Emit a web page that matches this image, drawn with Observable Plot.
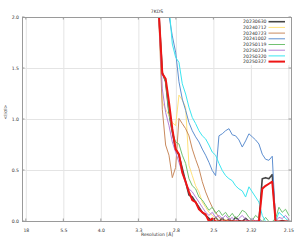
<!DOCTYPE html>
<html><head><meta charset="utf-8">
<script src="https://cdn.jsdelivr.net/npm/d3@7"></script>
<script src="https://cdn.jsdelivr.net/npm/@observablehq/plot@0.6"></script>
<style>body{margin:0;background:#fff} svg{display:block}</style>
</head><body><div id="chart"></div>
<script>
// x positions are 1/d^2 (Å^-2)
const xTickValues = [0.0031, 0.0335, 0.0639, 0.0943, 0.1247, 0.1551, 0.1855, 0.2159];
const xTickLabels = ["18", "5.5", "4.0", "3.3", "2.8", "2.5", "2.32", "2.15"];
const yTickValues = [0, 0.5, 1.0, 1.5, 2.0];
const title = "7KDS";
const xLabel = "Resolution [Å]";
const yLabel = "<I/σI>";

const seriesNames = ["20230630","20240712","20240723","20241002","20250119","20250224","20250320","20250327"];
const seriesColors = ["#454545","#ffe27a","#c98a5e","#5e8fd0","#72c272","#b57fd8","#3ce6f0","#ee1515"];
const seriesWidths = [1.6, 1, 1, 1, 1, 1, 1, 2];

const invD2 = [0.1079,0.1106,0.1133,0.1160,0.1187,0.1214,0.1241,0.1268,0.1295,0.1322,
  0.1349,0.1376,0.1403,0.1430,0.1457,0.1484,0.1511,0.1538,0.1565,0.1592,
  0.1619,0.1646,0.1673,0.1700,0.1727,0.1754,0.1781,0.1808,0.1835,0.1862,
  0.1889,0.1916,0.1943,0.1970,0.1997,0.2024,0.2051,0.2078,0.2105,0.2132,
  0.2159];

const v20230630 = [2.18,2.02,1.46,1.37,1.07,0.88,0.71,0.65,0.52,0.39,
  0.26,0.24,0.19,0.14,0.09,0.06,0.03,0,0.04,0,
  0.03,0,0.02,0,0.04,0.01,0,0.03,0,0,
  0,0,0.42,0.43,0.42,0.46,0,0,0.01,0,
  0];
const v20240712 = [2.22,2.05,1.17,1.10,1.04,0.97,0.94,1.24,1.19,1.12,
  0.55,0.45,0.35,0.29,0.19,0.14,0.09,0.06,0.03,0,
  0,0.02,0,0,0.01,0,0,0,0,0,
  0,0,0,0,0,0,0,0,0,0,
  0];
const v20240723 = [2.22,1.95,1.10,0.75,0.65,0.43,0.53,1.01,0.96,0.91,
  0.84,0.71,0.61,0.52,0.39,0.29,0.21,0.14,0.09,0.04,
  0.02,0,0.03,0,0,0,0,0,0,0,
  0,0,0,0,0,0,0,0,0,0,
  0];
const v20241002 = [2.8,2.6,2.4,2.22,2.02,1.82,1.66,1.37,1.20,1.09,
  0.97,0.89,0.83,0.78,0.71,0.65,0.58,0.50,0.45,0.84,
  0.86,0.89,0.91,0.85,0.84,0.80,0.73,0.79,0.86,0.83,
  0.80,0.76,0.66,0.61,0.60,0.64,0,0,0,0,
  0];
const v20250119 = [2.2,2.02,1.46,1.37,1.07,0.88,0.78,0.76,0.65,0.57,
  0.42,0.35,0.32,0.24,0.21,0.16,0.11,0.14,0.08,0.11,
  0.06,0.09,0.04,0.08,0.03,0.06,0.11,0.09,0.04,0.01,
  0.06,0.03,0,0.04,0,0,0.03,0.14,0.09,0.12,
  0.06];
const v20250224 = [2.22,1.99,1.30,1.07,0.94,0.78,0.68,0.58,0.48,0.37,
  0.32,0.29,0.24,0.19,0.14,0.09,0.06,0.09,0.04,0.06,
  0.03,0.06,0.02,0.04,0,0.03,0.06,0.02,0,0.03,
  0,0.02,0,0,0,0,0,0.04,0.03,0.06,
  0.02];
const v20250320 = [3.0,2.8,2.6,2.51,2.12,1.74,1.61,1.56,1.35,1.25,
  1.12,1.02,0.96,0.89,0.84,0.81,0.75,0.68,0.65,0.57,
  0.50,0.45,0.42,0.40,0.35,0.32,0.30,0.24,0.34,0.29,
  0.24,0.19,0.06,0,0,0,0,0.09,0.06,0.03,
  0];
const v20250327 = [2.22,2.02,1.45,1.40,1.17,0.91,0.71,0.66,0.48,0.39,
  0.29,0.21,0.19,0.12,0.09,0.07,0,0.03,0,0,
  0,0,0,0,0,0,0,0,0,0,
  0,0,0.32,0.35,0.37,0.39,0,0,0,0,
  0];

const seriesValues = [v20230630,v20240712,v20240723,v20241002,v20250119,v20250224,v20250320,v20250327];
const xLabelOf = new Map(xTickValues.map((v, i) => [v, xTickLabels[i]]));

const font = "DejaVu Sans";
const lineMarks = seriesNames.map((name, k) =>
  Plot.line(invD2.map((x, i) => ({x, v: seriesValues[k][i]})), {
    x: "x", y: "v", stroke: seriesColors[k], strokeWidth: seriesWidths[k], clip: true
  }));

const plot = Plot.plot({
  width: 300, height: 240,
  marginTop: 17, marginBottom: 19, marginLeft: 22, marginRight: 9,
  style: {fontFamily: font, fontSize: "4.6px", background: "#fff", color: "#333"},
  x: {domain: [0, 0.218]},
  y: {domain: [0, 2]},
  marks: [
    Plot.gridX(xTickValues, {stroke: "#e4e4e4", strokeOpacity: 1}),
    Plot.gridY([0.5, 1.0, 1.5], {stroke: "#e4e4e4", strokeOpacity: 1}),
    ...lineMarks,
    Plot.frame({stroke: "#9a9a9a"}),
    Plot.axisX(xTickValues, {tickSize: 0, tickPadding: 7, tickFormat: d => xLabelOf.get(d), label: null, fill: "#333"}),
    Plot.axisY(yTickValues, {tickSize: 0, tickPadding: 3.5, tickFormat: d3.format(".1f"), label: null, fill: "#333"}),
    Plot.text([title], {text: d => d, frameAnchor: "top", dy: -8, fill: "#333"}),
    Plot.text([xLabel], {text: d => d, frameAnchor: "bottom", dy: 14, fill: "#333"}),
    Plot.text([yLabel], {text: d => d, frameAnchor: "left", dx: -17, rotate: -90, fill: "#333"})
  ]
});

// inward tick marks and legend, placed through the plot's scales
const svg = d3.select(plot);
const sx = plot.scale("x"), sy = plot.scale("y");
const y0 = sy.apply(0), y2 = sy.apply(2), x0 = sx.apply(0), x1 = sx.apply(0.218);
const tk = svg.append("g").attr("stroke", "#9a9a9a").attr("stroke-width", 1);
for (const v of xTickValues) {
  const px = sx.apply(v);
  tk.append("line").attr("x1", px).attr("x2", px).attr("y1", y0).attr("y2", y0 - 2.5);
  tk.append("line").attr("x1", px).attr("x2", px).attr("y1", y2).attr("y2", y2 + 2.5);
}
for (const v of yTickValues) {
  const py = sy.apply(v);
  tk.append("line").attr("x1", x0).attr("x2", x0 + 2.5).attr("y1", py).attr("y2", py);
  tk.append("line").attr("x1", x1).attr("x2", x1 - 2.5).attr("y1", py).attr("y2", py);
}
const lg = svg.append("g").attr("font-family", font).attr("font-size", "4.6px");
const rowH = 5.7, lgTop = y2 + 4.7, lgRight = x1 - 1.5;
lg.append("rect").attr("x", lgRight - 47).attr("y", y2 + 1).attr("width", 47)
  .attr("height", rowH * seriesNames.length + 1.5).attr("fill", "#fff");
seriesNames.forEach((name, k) => {
  const py = lgTop + k * rowH;
  lg.append("text").attr("x", lgRight - 23).attr("y", py).attr("dy", "0.35em")
    .attr("text-anchor", "end").attr("fill", "#333").text(name);
  lg.append("line").attr("x1", lgRight - 21).attr("x2", lgRight - 4.5).attr("y1", py).attr("y2", py)
    .attr("stroke", seriesColors[k]).attr("stroke-width", seriesWidths[k]);
});

document.getElementById("chart").appendChild(plot);
</script>
</body></html>
